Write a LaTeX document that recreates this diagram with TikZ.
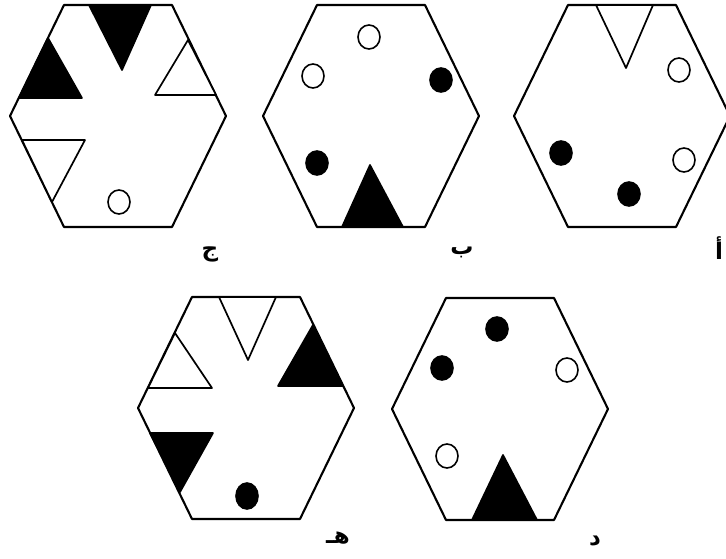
\documentclass[tikz,border=0pt]{standalone}
\usepackage{fontspec}
\newfontfamily\arabicfont[Script=Arabic]{DejaVu Sans}
\TeXXeTstate=1
\usetikzlibrary{positioning}

% outline of one hexagon, drawn round the origin of the current scope
\newcommand{\hexframe}{%
  \draw[hexa] (-54,-111) -- (54,-111) -- (108,0) -- (54,111)
    -- (-54,111) -- (-108,0) -- cycle;}

\begin{document}
\begin{tikzpicture}[x=1pt, y=-1pt,
    hexa/.style={draw, line width=2.1pt, line join=round},
    tribk/.style={fill=black, draw=black, line width=1.7pt, line join=round},
    triwh/.style={fill=white, draw=black, line width=1.7pt, line join=round},
    dotbk/.style={fill=black, draw=black, line width=1.6pt},
    dotwh/.style={fill=white, draw=black, line width=1.6pt},
    lbl/.style={font=\arabicfont\bfseries\fontsize{23}{25}\selectfont, inner sep=0pt}]
  \useasboundingbox (0,0) rectangle (726,559);

  % top row, left: jim
  \begin{scope}[shift={(118,116)}]
    \hexframe
    \draw[tribk] (-29,-111) -- (33,-111) -- (4,-46) -- cycle;
    \draw[tribk] (-70,-78) -- (-99,-18) -- (-36,-18) -- cycle;
    \draw[triwh] (70,-76) -- (37,-21) -- (98,-21) -- cycle;
    \draw[triwh] (-96,24) -- (-33,24) -- (-66,86) -- cycle;
    \draw[dotwh] (1,86) ellipse [x radius=11, y radius=12];
  \end{scope}

  % top row, middle: ba
  \begin{scope}[shift={(371,116)}]
    \hexframe
    \draw[dotwh] (-2,-79) ellipse [x radius=11, y radius=12];
    \draw[dotwh] (-58,-40) ellipse [x radius=11, y radius=12];
    \draw[dotbk] (70,-36) ellipse [x radius=11, y radius=12];
    \draw[dotbk] (-54,47) ellipse [x radius=11, y radius=12];
    \draw[tribk] (-1,49) -- (32,111) -- (-29,111) -- cycle;
  \end{scope}

  % top row, right: alif
  \begin{scope}[shift={(622,116)}]
    \hexframe
    \draw[triwh] (-26,-111) -- (31,-111) -- (4,-48) -- cycle;
    \draw[dotwh] (57,-46) ellipse [x radius=11, y radius=12];
    \draw[dotwh] (62,44) ellipse [x radius=11, y radius=12];
    \draw[dotbk] (-61,37) ellipse [x radius=11, y radius=12];
    \draw[dotbk] (7,78) ellipse [x radius=11, y radius=12];
  \end{scope}

  % bottom row, left: ha
  \begin{scope}[shift={(246,408)}]
    \hexframe
    \draw[triwh] (-27,-111) -- (30,-111) -- (2,-48) -- cycle;
    \draw[triwh] (-71,-75) -- (-98,-20) -- (-34,-20) -- cycle;
    \draw[tribk] (67,-83) -- (32,-22) -- (97,-22) -- cycle;
    \draw[tribk] (-96,25) -- (-33,25) -- (-66,84) -- cycle;
    \draw[dotbk] (1,88) ellipse [x radius=11, y radius=13];
  \end{scope}

  % bottom row, right: dal
  \begin{scope}[shift={(500,409)}]
    \hexframe
    \draw[dotbk] (-3,-80) ellipse [x radius=11, y radius=12];
    \draw[dotbk] (-58,-41) ellipse [x radius=11, y radius=12];
    \draw[dotwh] (67,-39) ellipse [x radius=11, y radius=12];
    \draw[dotwh] (-53,47) ellipse [x radius=11, y radius=12];
    \draw[tribk] (3,46) -- (37,111) -- (-28,111) -- cycle;
  \end{scope}

  % letters
  \node[lbl] (lblJim) at (210,254) {\beginR ج\endR};
  \node[lbl] (lblBa) at (462,252) {\beginR ب\endR};
  \node[lbl] (lblAlif) at (719,248) {\beginR أ\endR};
  \node[lbl] (lblHa) at (338,538) {\beginR هـ\endR};
  \node[lbl] (lblDal) at (595,541) {\beginR د\endR};
\end{tikzpicture}
\end{document}
